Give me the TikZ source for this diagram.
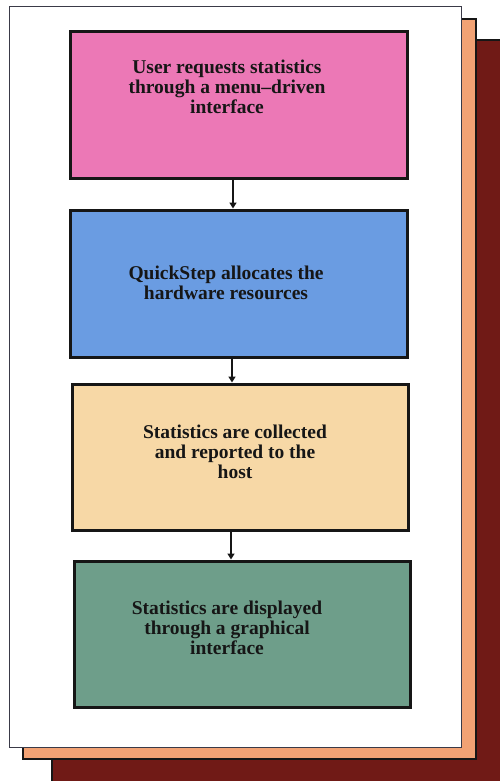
\documentclass[tikz,border=0pt]{standalone}
\usepackage{fontspec}
\setmainfont{Liberation Serif}
\usetikzlibrary{arrows.meta}

\definecolor{pagedark}{HTML}{701A16}
\definecolor{pageorange}{HTML}{F2A274}
\definecolor{pageedge}{HTML}{3A3A48}
\definecolor{boxpink}{HTML}{EC78B6}
\definecolor{boxblue}{HTML}{6A9CE2}
\definecolor{boxpeach}{HTML}{F7D8A6}
\definecolor{boxgreen}{HTML}{6E9E8A}
\definecolor{ink}{HTML}{161616}

\tikzset{
  stepbox/.style={draw=ink, line width=3pt, inner sep=0pt},
  steptext/.style={align=center, text=ink, font=\fontsize{19.5}{20}\selectfont\bfseries, inner sep=0pt},
  flow/.style={draw=ink, line width=2pt, -{Triangle[length=6pt,width=7pt]}},
}

\begin{document}
\begin{tikzpicture}[x=1pt,y=-1pt]
  \useasboundingbox (0,0) rectangle (500,781);

  % stacked sheets behind the chart
  \fill[pagedark] (52,40) rectangle (500,781);
  \draw[ink, line width=1.2pt] (52,781) -- (52,40) -- (500,40);
  \filldraw[fill=pageorange, draw=ink, line width=1.5pt] (23,19) rectangle (476,759);
  \filldraw[fill=white, draw=pageedge, line width=1pt] (9.5,7) rectangle (461.5,747);

  % flow steps
  \node[stepbox, fill=boxpink,  minimum width=337pt, minimum height=146pt] (b1) at (238.5,105) {};
  \node[stepbox, fill=boxblue,  minimum width=337pt, minimum height=147pt] (b2) at (238.5,283.5) {};
  \node[stepbox, fill=boxpeach, minimum width=336pt, minimum height=146pt] (b3) at (240,457) {};
  \node[stepbox, fill=boxgreen, minimum width=336pt, minimum height=146pt] (b4) at (242,634) {};

  \node[steptext] (t1) at (227,87) {User requests statistics\\through a menu--driven\\interface};
  \node[steptext] (t2) at (226,283) {QuickStep allocates the\\hardware resources};
  \node[steptext] (t3) at (235,452) {Statistics are collected\\and reported to the\\host};
  \node[steptext] (t4) at (227,628) {Statistics are displayed\\through a graphical\\interface};

  % connectors
  \draw[flow] ([xshift=-5.5pt]b1.south) -- ([xshift=-5.5pt]b2.north);
  \draw[flow] ([xshift=-6.5pt]b2.south) -- ([xshift=-8pt]b3.north);
  \draw[flow] ([xshift=-9pt]b3.south) -- ([xshift=-11pt]b4.north);
\end{tikzpicture}
\end{document}
